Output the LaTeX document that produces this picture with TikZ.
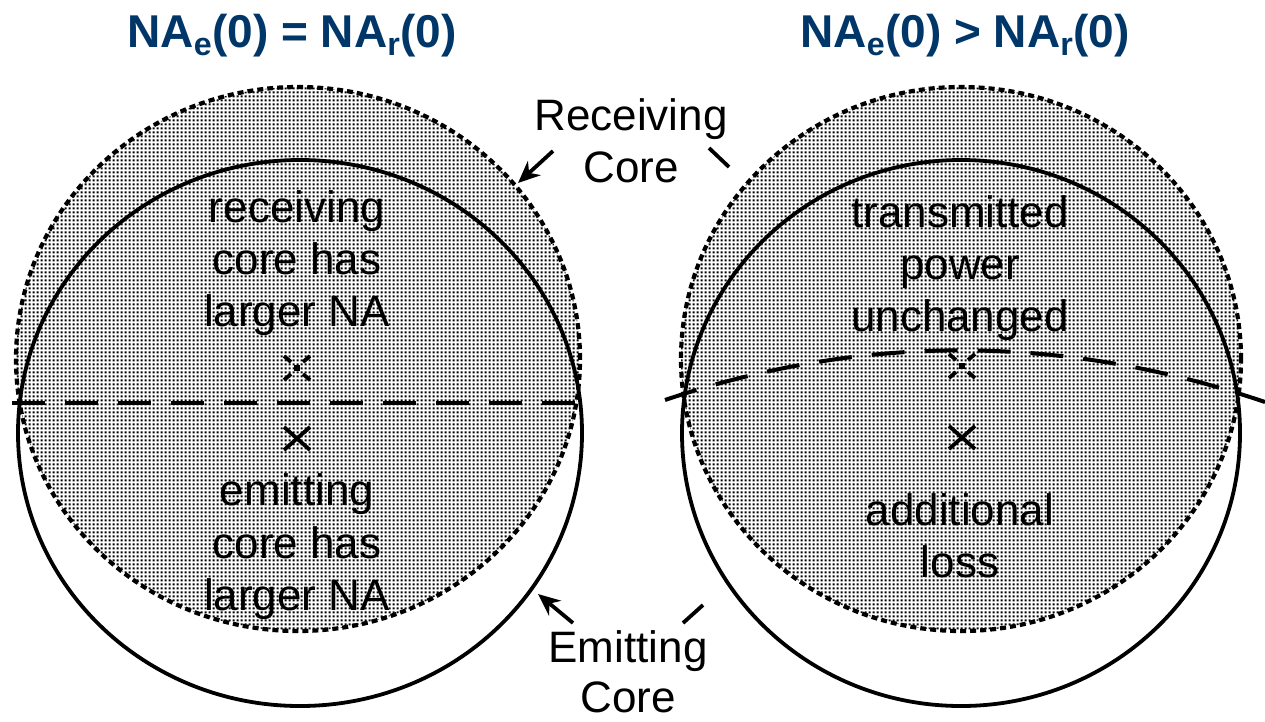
\documentclass[tikz,border=0pt]{standalone}
\usepackage{fontspec}
\setmainfont{Liberation Sans}
\usetikzlibrary{patterns.meta,arrows.meta}
\definecolor{titleblue}{RGB}{0,54,104}
\tikzdeclarepattern{
  name=finedots,
  type=colored,
  bottom left={(0pt,0pt)},
  top right={(4pt,4pt)},
  tile size={(4pt,4pt)},
  code={\fill[black] (0.7pt,0.7pt) rectangle (3.3pt,3.3pt);}
}
\begin{document}
\begin{tikzpicture}[x=1pt,y=-1pt,
  rcore/.style={pattern=finedots, draw=black, line width=4.2pt, dash pattern=on 6pt off 4pt},
  ecore/.style={draw=black, line width=3.8pt},
  axisline/.style={draw=black, line width=4pt, dash pattern=on 33pt off 20pt},
  lbl/.style={font=\fontsize{44}{52}\selectfont, anchor=base, inner sep=0pt},
  ttl/.style={font=\bfseries\fontsize{46}{52}\selectfont, text=titleblue, anchor=base, inner sep=0pt},
  xmark/.style={draw=black, line width=3.8pt},
  pointer/.style={draw=black, line width=3.8pt, -{Stealth[length=22pt,width=19pt,inset=7pt]}},
  leader/.style={draw=black, line width=3.8pt}
]
\useasboundingbox[fill=white] (0,0) rectangle (1265,721);

% titles
\node[ttl] (t1) at (292,47) {NA\textsubscript{e}(0) = NA\textsubscript{r}(0)};
\node[ttl] (t2) at (965,47) {NA\textsubscript{e}(0) > NA\textsubscript{r}(0)};

% left pair of cores
\draw[rcore] (298,359) ellipse [x radius=282pt, y radius=272pt];
\draw[ecore] (300,433) ellipse [x radius=282pt, y radius=273pt];
\coordinate (la) at (12,403);
\coordinate (lb) at (584,403);
\draw[axisline] (la) -- (lb);

% right pair of cores
\draw[rcore] (961,359) ellipse [x radius=280pt, y radius=272pt];
\draw[ecore] (961,433) ellipse [x radius=279pt, y radius=273pt];
\coordinate (ra) at (665,400);
\coordinate (rb) at (1265,402);
\draw[axisline] (ra) .. controls (864,333) and (1064,334) .. (rb);

% centre marks left
\draw[xmark] (284,427) -- (310,450) (284,450) -- (310,427);
\draw[xmark] (284,356) -- (291,362) (310,356) -- (303,362)
             (284,380) -- (291,374) (310,380) -- (303,374);
\fill (294,365) rectangle (300,371);

% centre marks right
\draw[xmark] (949,426) -- (975,449) (949,449) -- (975,426);
\draw[xmark] (949,354) -- (956,360) (975,354) -- (968,360)
             (949,378) -- (956,372) (975,378) -- (968,372);
\fill (959,363) rectangle (965,369);

% inner labels left
\node[lbl] (l1) at (297,222) {receiving};
\node[lbl] (l2) at (297,274) {core has};
\node[lbl] (l3) at (297,326) {larger NA};
\node[lbl] (l4) at (297,505) {emitting};
\node[lbl] (l5) at (297,558) {core has};
\node[lbl] (l6) at (297,610) {larger NA};

% inner labels right
\node[lbl] (r1) at (960,227) {transmitted};
\node[lbl] (r2) at (960,279) {power};
\node[lbl] (r3) at (960,331) {unchanged};
\node[lbl] (r4) at (960,525) {additional};
\node[lbl] (r5) at (960,577) {loss};

% outer labels
\node[lbl] (rc1) at (631,130) {Receiving};
\node[lbl] (rc2) at (631,182) {Core};
\node[lbl] (ec1) at (628,662) {Emitting};
\node[lbl] (ec2) at (628,712) {Core};

% pointers
\coordinate (p1s) at (553,151);
\coordinate (p1e) at (518,183);
\draw[pointer] (p1s) -- (p1e);
\coordinate (q1s) at (709,148);
\coordinate (q1e) at (729,167);
\draw[leader] (q1s) -- (q1e);
\coordinate (p2s) at (573,623);
\coordinate (p2e) at (538,594);
\draw[pointer] (p2s) -- (p2e);
\coordinate (q2s) at (683,623);
\coordinate (q2e) at (703,605);
\draw[leader] (q2s) -- (q2e);
\end{tikzpicture}
\end{document}
